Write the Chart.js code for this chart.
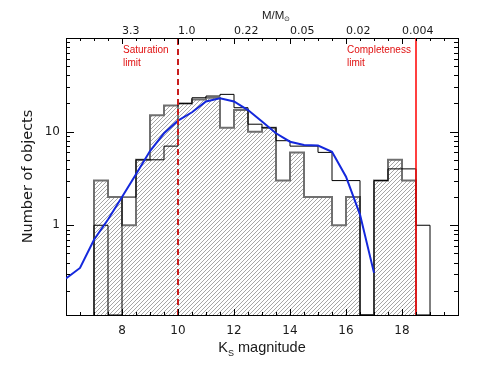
<!DOCTYPE html>
<html>
<head>
<meta charset="utf-8">
<script src="https://cdn.jsdelivr.net/npm/chart.js@4"></script>
<style>html,body{margin:0;padding:0;background:#fff;}</style>
</head>
<body>
<canvas id="myChart" width="490" height="368"></canvas>
<script>
// left edges of the 0.5 mag bins
var binLeft = [7.0, 7.5, 8.0, 8.5, 9.0, 9.5, 10.0, 10.5, 11.0, 11.5, 12.0, 12.5,
               13.0, 13.5, 14.0, 14.5, 15.0, 15.5, 16.0, 16.5, 17.0, 17.5, 18.0, 18.5];
var binWidth = 0.5;
var hatchedCounts = [3, 2, 1, 5, 15, 19, 20, 22, 23, 11, 17, 10,
                     11, 3, 6, 2, 2, 1, 2, 0, 3, 5, 3, 0];
var outlineCounts = [1, 0, 2, 5, 5, 7, 20, 23, 24, 25, 18, 12,
                     11, 8, 7, 7, 6, 3, 3, 0, 3, 4, 4, 1];
var fitMag = [6.0, 6.5, 7.0, 7.5, 8.0, 8.5, 9.0, 9.5, 10.0, 10.5, 11.0, 11.5,
              12.0, 12.5, 13.0, 13.5, 14.0, 14.5, 15.0, 15.5, 16.0, 16.5, 17.0];
var fitCounts = [0.27, 0.35, 0.70, 1.15, 2.0, 3.5, 6.2, 9.6, 13.1, 16.1, 21, 22.7,
                 21, 17, 12.8, 9.6, 7.8, 7.2, 7.1, 6.1, 3.3, 1.3, 0.31];
var xTickValues = [8, 10, 12, 14, 16, 18];
var massLabels = ['3.3', '1.0', '0.22', '0.05', '0.02', '0.004'];
var yTickValues = [1, 10];
var yMin = 0.11, yMax = 100;
var saturationLimit = 10;
var completenessLimit = 18.5;

// empty bins sit on the bottom of the log axis
function stepPoints(counts) {
    var pts = [{x: binLeft[0], y: yMin}];
    for (var i = 0; i < counts.length; i++) {
        pts.push({x: binLeft[i], y: counts[i] > 0 ? counts[i] : yMin});
    }
    pts.push({x: binLeft[binLeft.length - 1] + binWidth, y: yMin});
    return pts;
}

var canvas = document.getElementById('myChart');
var hatchCanvas = document.createElement('canvas');
hatchCanvas.width = 4;
hatchCanvas.height = 4;
var hc = hatchCanvas.getContext('2d');
hc.strokeStyle = '#a6a6a6';
hc.lineWidth = 1;
hc.beginPath();
hc.moveTo(0, 4); hc.lineTo(4, 0);
hc.moveTo(-1, 1); hc.lineTo(1, -1);
hc.moveTo(3, 5); hc.lineTo(5, 3);
hc.stroke();
var hatch = canvas.getContext('2d').createPattern(hatchCanvas, 'repeat');

// IDL style ticks pointing into the plot
var inwardTicks = {
    id: 'inwardTicks',
    afterDraw: function(chart) {
        var ctx = chart.ctx, a = chart.chartArea;
        var xs = chart.scales.x, ys = chart.scales.y;
        ctx.save();
        ctx.strokeStyle = '#000';
        ctx.lineWidth = 1;
        ctx.beginPath();
        for (var m = xs.min + 0.5; m < xs.max; m += 0.5) {
            var px = Math.round(xs.getPixelForValue(m)) + 0.5;
            var len = xTickValues.indexOf(m) >= 0 ? 6 : 3;
            ctx.moveTo(px, a.bottom); ctx.lineTo(px, a.bottom - len);
            ctx.moveTo(px, a.top); ctx.lineTo(px, a.top + len);
        }
        [0.1, 1, 10].forEach(function(d) {
            for (var k = 1; k <= 9; k++) {
                var v = k * d;
                if (v <= ys.min || v >= ys.max) continue;
                var py = Math.round(ys.getPixelForValue(v)) + 0.5;
                var l = k === 1 ? 8 : 4;
                ctx.moveTo(a.left, py); ctx.lineTo(a.left + l, py);
                ctx.moveTo(a.right, py); ctx.lineTo(a.right - l, py);
            }
        });
        ctx.stroke();
        ctx.restore();
    }
};

function drawSub(ctx, main, sub, rest, x, y, size, fam) {
    ctx.font = size + 'px ' + fam;
    ctx.fillText(main, x, y);
    x += ctx.measureText(main).width;
    ctx.font = Math.round(size * 0.65) + 'px ' + fam;
    ctx.fillText(sub, x, y + size * 0.25);
    x += ctx.measureText(sub).width;
    ctx.font = size + 'px ' + fam;
    ctx.fillText(rest, x, y);
}

var limitsAndTitles = {
    id: 'limitsAndTitles',
    afterDatasetsDraw: function(chart) {
        var ctx = chart.ctx, a = chart.chartArea, xs = chart.scales.x;
        ctx.save();
        var sx = xs.getPixelForValue(saturationLimit);
        ctx.strokeStyle = '#c81e1e';
        ctx.lineWidth = 2;
        ctx.setLineDash([6, 4]);
        ctx.beginPath(); ctx.moveTo(sx, a.bottom); ctx.lineTo(sx, a.top); ctx.stroke();
        var cx = xs.getPixelForValue(completenessLimit);
        ctx.setLineDash([]);
        ctx.strokeStyle = '#ff0000';
        ctx.lineWidth = 1.5;
        ctx.beginPath(); ctx.moveTo(cx, a.bottom); ctx.lineTo(cx, a.top); ctx.stroke();

        ctx.fillStyle = '#e01010';
        ctx.font = '10px "Liberation Sans"';
        ctx.textBaseline = 'middle';
        var lx1 = xs.getPixelForValue(8) + 1, lx2 = xs.getPixelForValue(16) + 1;
        ctx.fillText('Saturation', lx1, 50);
        ctx.fillText('limit', lx1, 63);
        ctx.fillText('Completeness', lx2, 50);
        ctx.fillText('limit', lx2, 63);
        ctx.restore();
    },
    afterDraw: function(chart) {
        var ctx = chart.ctx, a = chart.chartArea;
        ctx.save();
        ctx.fillStyle = '#1a1a1a';
        ctx.textBaseline = 'alphabetic';
        // x title
        var fam = '"Liberation Sans"';
        ctx.font = '14.5px ' + fam;
        var w = ctx.measureText('K magnitude').width + 6;
        drawSub(ctx, 'K', 'S', ' magnitude', (a.left + a.right) / 2 - w / 2, 352, 14.5, fam);
        // top title
        drawSub(ctx, 'M/M', '\u2299', '', (a.left + a.right) / 2, 18.5, 11.5, fam);
        // y title
        ctx.translate(28, (a.top + a.bottom) / 2);
        ctx.rotate(-Math.PI / 2);
        ctx.textAlign = 'center';
        ctx.textBaseline = 'middle';
        ctx.font = '14.5px "DejaVu Sans"';
        ctx.fillText('Number of objects', 0, 0);
        ctx.restore();
    }
};

var tickFont = {family: '"DejaVu Sans"', size: 12};

var options = {
    type: 'line',
    data: {
        datasets: [{
            label: 'Fit',
            data: fitMag.map(function(m, i) { return {x: m, y: fitCounts[i]}; }),
            borderColor: '#1428dc',
            borderWidth: 2,
            pointRadius: 0,
            fill: false,
            order: 0
        }, {
            label: 'Outline',
            data: stepPoints(outlineCounts),
            stepped: 'before',
            borderColor: '#000000',
            borderWidth: 1,
            pointRadius: 0,
            fill: false,
            order: 1
        }, {
            label: 'Hatched',
            data: stepPoints(hatchedCounts),
            stepped: 'before',
            borderColor: '#707070',
            borderWidth: 2,
            backgroundColor: hatch,
            fill: 'start',
            pointRadius: 0,
            order: 2
        }]
    },
    options: {
        responsive: false,
        animation: false,
        devicePixelRatio: 1,
        layout: {padding: 0},
        plugins: {
            legend: {display: false},
            tooltip: {enabled: false}
        },
        scales: {
            x: {
                type: 'linear',
                position: 'bottom',
                min: 6,
                max: 20,
                afterBuildTicks: function(s) { s.ticks = xTickValues.map(function(v) { return {value: v}; }); },
                afterFit: function(s) { s.height = 53; },
                grid: {display: false, drawTicks: false},
                border: {display: true, color: '#000', width: 1},
                ticks: {font: tickFont, color: '#1a1a1a', padding: 9, maxRotation: 0}
            },
            x2: {
                type: 'linear',
                position: 'top',
                min: 6,
                max: 20,
                afterBuildTicks: function(s) { s.ticks = xTickValues.map(function(v) { return {value: v}; }); },
                afterFit: function(s) { s.height = 38; },
                grid: {display: false, drawTicks: false},
                border: {display: true, color: '#000', width: 1},
                ticks: {
                    font: {family: '"DejaVu Sans"', size: 11},
                    color: '#1a1a1a',
                    padding: 0,
                    align: 'start',
                    maxRotation: 0,
                    callback: function(v, i) { return massLabels[i]; }
                }
            },
            y: {
                type: 'logarithmic',
                position: 'left',
                min: yMin,
                max: yMax,
                afterBuildTicks: function(s) { s.ticks = yTickValues.map(function(v) { return {value: v}; }); },
                afterFit: function(s) { s.width = 66; },
                grid: {display: false, drawTicks: false},
                border: {display: true, color: '#000', width: 1},
                ticks: {font: tickFont, color: '#1a1a1a', padding: 6,
                        callback: function(v) { return String(v); }}
            },
            y2: {
                type: 'logarithmic',
                position: 'right',
                min: yMin,
                max: yMax,
                afterFit: function(s) { s.width = 32; },
                grid: {display: false, drawTicks: false},
                border: {display: true, color: '#000', width: 1},
                ticks: {display: false}
            }
        }
    },
    plugins: [inwardTicks, limitsAndTitles]
};

var chart = new Chart(canvas, options);
</script>
</body>
</html>
